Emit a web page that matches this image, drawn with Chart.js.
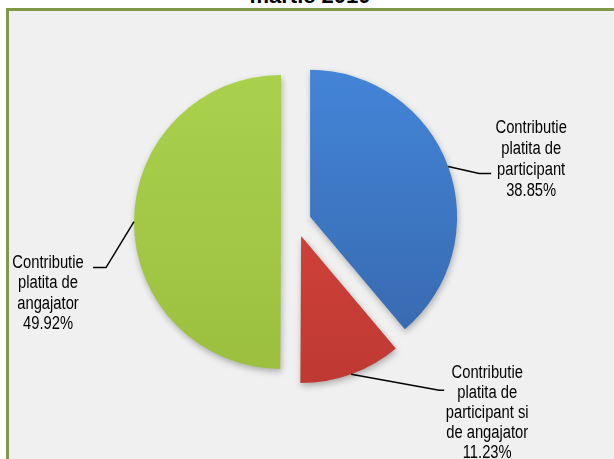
<!DOCTYPE html>
<html>
<head>
<meta charset="utf-8">
<script src="https://cdn.jsdelivr.net/npm/chart.js@4.4.1/dist/chart.umd.min.js"></script>
<style>
  html { margin: 0; padding: 0; overflow: hidden; background: #fff; }
  body { margin: 0; padding: 0; width: 614px; height: 459px; position: relative; background: #fff; }
  #frame {
    position: absolute; left: 6px; top: 8px; width: 1200px; height: 900px;
    border: 0; border-top: 3px solid #7e9a48; border-left: 3px solid #7e9a48;
    background: #f0f0f0;
  }
  #title {
    position: absolute; left: 200px; width: 220px; top: -15px;
    font: bold 22px "Liberation Sans", Arial, sans-serif; line-height: 22px;
    text-align: center; color: #000; white-space: nowrap;
  }
  #wrap { position: absolute; left: 0; top: 0; width: 614px; height: 459px; }
</style>
</head>
<body>
<div id="frame"></div>
<div id="title">martie 2010</div>
<div id="wrap"><canvas id="myChart" width="614" height="459"></canvas></div>
<script>
// slices, clockwise from 12 o'clock
let categories = [
  ['Contributie', 'platita de', 'participant'],
  ['Contributie', 'platita de', 'participant si', 'de angajator'],
  ['Contributie', 'platita de', 'angajator']
];
let shares = [38.85, 11.23, 49.92];

let topColors = ['#4384d7', '#df4842', '#a9d14c'];
let bottomColors = ['#3667ab', '#c03a33', '#9cc03e'];

let explode = 15; // gap between slices
let pieRadius = 147;

// leader line and text placement, relative to the point on the slice edge
let labelLayout = [
  { elbow: [31, 7], end: [43, 7], text: [83, -6.5], lineH: 21 },
  { elbow: [88, 16], end: [93, 16], text: [136, 39], lineH: 20 },
  { elbow: [-28, 46], end: [-41, 46], text: [-86, 72], lineH: 20.5 }
];

function sliceFill(c) {
  let i = c.dataIndex;
  let area = c.chart.chartArea;
  if (!area) return topColors[i];
  let cy = (area.top + area.bottom) / 2;
  let g = c.chart.ctx.createLinearGradient(0, cy - pieRadius, 0, cy + pieRadius);
  g.addColorStop(0, topColors[i]);
  g.addColorStop(1, bottomColors[i]);
  return g;
}

// pulls every slice out along its own bisector
const explodePlugin = {
  id: 'explode',
  afterDatasetUpdate(chart, args) {
    let a = chart.chartArea;
    let cx = (a.left + a.right) / 2;
    let cy = (a.top + a.bottom) / 2;
    args.meta.data.forEach(arc => {
      let mid = (arc.startAngle + arc.endAngle) / 2;
      arc.x = cx + Math.cos(mid) * explode;
      arc.y = cy + Math.sin(mid) * explode;
    });
  }
};

const shadowPlugin = {
  id: 'shadow',
  beforeDatasetsDraw(chart) {
    let ctx = chart.ctx;
    ctx.save();
    ctx.shadowColor = 'rgba(0,0,0,0.28)';
    ctx.shadowBlur = 6;
    ctx.shadowOffsetX = 1;
    ctx.shadowOffsetY = 3;
  },
  afterDatasetsDraw(chart) {
    chart.ctx.restore();
  }
};

const labelPlugin = {
  id: 'sliceLabels',
  afterDraw(chart) {
    let ctx = chart.ctx;
    let meta = chart.getDatasetMeta(0);
    meta.data.forEach((arc, i) => {
      let mid = (arc.startAngle + arc.endAngle) / 2;
      let px = arc.x + Math.cos(mid) * arc.outerRadius;
      let py = arc.y + Math.sin(mid) * arc.outerRadius;
      let lay = labelLayout[i];

      ctx.save();
      ctx.strokeStyle = '#000';
      ctx.lineWidth = 1.5;
      ctx.beginPath();
      ctx.moveTo(px, py);
      ctx.lineTo(px + lay.elbow[0], py + lay.elbow[1]);
      ctx.lineTo(px + lay.end[0], py + lay.end[1]);
      ctx.stroke();

      let lines = chart.data.labels[i].concat([shares[i].toFixed(2) + '%']);
      let tx = px + lay.text[0];
      let ty = py + lay.text[1] - (lines.length - 1) * lay.lineH / 2;
      ctx.fillStyle = '#000';
      ctx.font = '18px "Liberation Sans", Arial, sans-serif';
      ctx.textAlign = 'center';
      ctx.textBaseline = 'middle';
      lines.forEach((t, k) => {
        ctx.save();
        ctx.translate(tx, ty + k * lay.lineH);
        ctx.scale(0.82, 1);
        ctx.fillText(t, 0, 0);
        ctx.restore();
      });
      ctx.restore();
    });
  }
};

function makePieChart() {
  let pieCtx = document.getElementById('myChart').getContext('2d');
  let sharesChart = new Chart(pieCtx, {
    type: 'pie',
    data: {
      labels: categories,
      datasets: [{
        data: shares,
        backgroundColor: sliceFill,
        borderWidth: 0
      }]
    },
    options: {
      responsive: false,
      animation: false,
      radius: pieRadius,
      layout: { padding: { left: 100, right: 122, top: 60, bottom: 75 } },
      plugins: {
        legend: { display: false },
        tooltip: { enabled: false },
        title: { display: false }
      }
    },
    plugins: [explodePlugin, shadowPlugin, labelPlugin]
  });
}

makePieChart();
</script>
</body>
</html>
